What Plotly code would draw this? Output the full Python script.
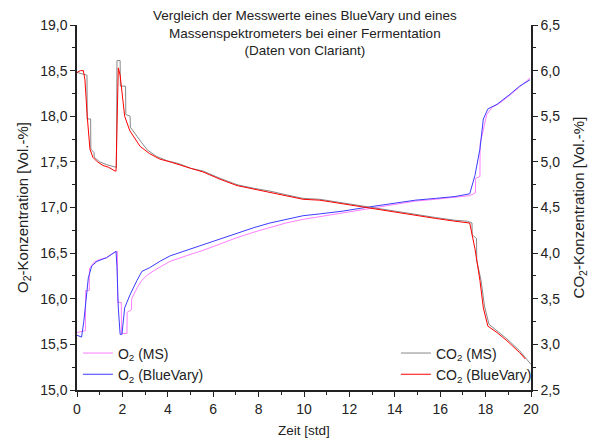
import plotly.graph_objects as go

# Zeit [std] and values
t_o2_bv = [0, 0.2, 0.3, 0.35, 0.5, 0.65, 0.88, 1.3, 1.67, 1.72, 1.76, 1.82, 1.9, 1.98, 2.1, 2.33, 2.64, 2.86, 3.2, 3.65,
           4.1, 4.8, 5.55, 6.3, 7.05, 7.8, 8.5, 9.2, 9.96, 10.7, 11.7, 12.7, 13.8, 14.9, 15.8, 16.65, 17.3, 17.53, 17.75,
           17.9, 18.1, 18.5, 19.07, 19.5, 19.96]
o2_bv = [15.60, 15.58, 15.75, 15.87, 16.23, 16.36, 16.41, 16.45, 16.51, 16.52, 16.35, 15.90, 15.61, 15.61, 15.90, 16.04,
         16.20, 16.30, 16.34, 16.41, 16.47, 16.53, 16.59, 16.66, 16.72, 16.78, 16.83, 16.87, 16.91, 16.93, 16.96, 17.00,
         17.04, 17.08, 17.10, 17.12, 17.15, 17.35, 17.64, 17.97, 18.08, 18.13, 18.24, 18.33, 18.40]

t_o2_ms = [0, 0.37, 0.38, 0.54, 0.55, 0.75, 1.0, 1.3, 1.6, 1.78, 1.79, 1.95, 1.96, 2.2, 2.21, 2.4, 2.41, 2.65, 2.85,
           3.1, 3.4, 3.7, 4.1, 4.8, 5.55, 6.3, 7.05, 7.8, 8.5, 9.2, 9.96, 10.7, 11.7, 12.7, 13.8, 14.9, 15.8, 16.65,
           17.3, 17.55, 17.56, 17.75, 17.76, 17.9, 18.05, 18.3, 18.6, 19.07, 19.5, 19.96]
o2_ms = [15.63, 15.65, 16.09, 16.09, 16.33, 16.40, 16.43, 16.45, 16.50, 16.52, 15.96, 15.96, 15.62, 15.62, 15.85, 15.88,
         16.00, 16.12, 16.20, 16.26, 16.31, 16.35, 16.41, 16.47, 16.53, 16.60, 16.67, 16.73, 16.78, 16.83, 16.87, 16.90,
         16.94, 16.98, 17.03, 17.07, 17.09, 17.11, 17.13, 17.16, 17.32, 17.34, 17.70, 17.85, 18.02, 18.10, 18.14, 18.23,
         18.32, 18.42]

t_co2_bv = [0, 0.15, 0.28, 0.35, 0.45, 0.57, 0.7, 0.9, 1.15, 1.4, 1.67, 1.72, 1.78, 1.82, 1.9, 1.98, 2.1, 2.33, 2.55,
            2.78, 3.2, 3.65, 4.1, 4.45, 5.0, 5.55, 6.3, 7.05, 7.8, 8.5, 9.2, 9.96, 10.7, 11.7, 12.7, 13.8, 14.9, 15.8,
            16.65, 17.1, 17.3, 17.53, 17.75, 17.9, 18.1, 18.5, 18.94, 19.5, 19.75]
co2_bv = [5.98, 6.00, 6.00, 5.90, 5.50, 5.14, 5.05, 5.00, 4.96, 4.94, 4.90, 4.90, 5.60, 6.03, 5.95, 5.79, 5.50, 5.34,
          5.25, 5.17, 5.09, 5.03, 5.00, 4.97, 4.93, 4.89, 4.81, 4.74, 4.70, 4.67, 4.63, 4.59, 4.58, 4.54, 4.50, 4.46,
          4.41, 4.38, 4.35, 4.34, 4.33, 4.05, 3.70, 3.40, 3.20, 3.13, 3.04, 2.91, 2.84]

t_co2_ms = [0, 0.44, 0.45, 0.6, 0.61, 0.75, 0.76, 1.0, 1.3, 1.74, 1.76, 1.9, 1.91, 2.14, 2.15, 2.34, 2.35, 2.6, 2.85,
            3.1, 3.5, 4.0, 4.5, 5.0, 5.55, 6.3, 7.05, 7.8, 8.5, 9.2, 9.96, 10.7, 11.7, 12.7, 13.8, 14.9, 15.8, 16.65,
            17.2, 17.4, 17.41, 17.6, 17.61, 17.8, 17.95, 18.15, 18.5, 18.94, 19.5, 20.0]
co2_ms = [5.98, 5.95, 5.47, 5.47, 5.14, 5.10, 5.05, 5.00, 4.97, 4.94, 6.11, 6.11, 5.83, 5.83, 5.52, 5.50, 5.38, 5.29,
          5.21, 5.13, 5.06, 5.01, 4.98, 4.93, 4.90, 4.82, 4.75, 4.71, 4.68, 4.64, 4.60, 4.59, 4.55, 4.51, 4.47, 4.42,
          4.39, 4.36, 4.35, 4.33, 4.20, 4.16, 3.92, 3.70, 3.42, 3.22, 3.15, 3.06, 2.93, 2.78]

x_ticks = list(range(0, 21, 2))
title_text = "Vergleich der Messwerte eines BlueVary und eines<br>Massenspektrometers bei einer Fermentation<br>(Daten von Clariant)"
font = "Liberation Sans, Arial, sans-serif"
ink = "#222222"

fig = go.Figure()
fig.add_trace(go.Scatter(x=t_o2_ms, y=o2_ms, mode="lines", line=dict(color="#ff7fff", width=1),
                         name="O<sub>2</sub> (MS)", legend="legend"))
fig.add_trace(go.Scatter(x=t_co2_ms, y=co2_ms, mode="lines", line=dict(color="#888888", width=1),
                         name="CO<sub>2</sub> (MS)", yaxis="y2", legend="legend2"))
fig.add_trace(go.Scatter(x=t_o2_bv, y=o2_bv, mode="lines", line=dict(color="#3c3cff", width=1),
                         name="O<sub>2</sub> (BlueVary)", legend="legend"))
fig.add_trace(go.Scatter(x=t_co2_bv, y=co2_bv, mode="lines", line=dict(color="#ff0000", width=1),
                         name="CO<sub>2</sub> (BlueVary)", yaxis="y2", legend="legend2"))

axis_common = dict(showgrid=False, zeroline=False, showline=True, linecolor=ink, linewidth=1.5,
                   ticks="outside", ticklen=5, tickwidth=1.2, tickcolor=ink,
                   tickfont=dict(family=font, size=14, color=ink))

fig.add_annotation(text=title_text, xref="paper", yref="paper", x=0.502, y=0.978, xanchor="center",
                   yanchor="middle", showarrow=False, align="center",
                   font=dict(family=font, size=13.5, color=ink))

fig.update_layout(
    width=597, height=448,
    margin=dict(l=77, r=66, t=25, b=54),
    paper_bgcolor="white", plot_bgcolor="white",
    separators=",.",
    font=dict(family=font, color=ink),
    xaxis=dict(range=[0, 20], tickvals=x_ticks, tickformat="d",
               minor=dict(ticks="outside", ticklen=3, dtick=1, tickcolor=ink),
               title=dict(text="Zeit [std]", font=dict(family=font, size=13.5), standoff=10), **axis_common),
    yaxis=dict(range=[15, 19], dtick=0.5, tickformat=".1f",
               minor=dict(ticks="outside", ticklen=3, dtick=0.25, tickcolor=ink),
               title=dict(text="O<sub>2</sub>-Konzentration [Vol.-%]", font=dict(family=font, size=15), standoff=8),
               **axis_common),
    yaxis2=dict(range=[2.5, 6.5], dtick=0.5, tickformat=".1f", overlaying="y", side="right",
                minor=dict(ticks="outside", ticklen=3, dtick=0.25, tickcolor=ink),
                title=dict(text="CO<sub>2</sub>-Konzentration [Vol.-%]", font=dict(family=font, size=15), standoff=14),
                **axis_common),
    legend=dict(x=0.002, y=0.144, xanchor="left", yanchor="top", bgcolor="rgba(0,0,0,0)",
                font=dict(family=font, size=14), tracegroupgap=0, itemwidth=30),
    legend2=dict(x=1.013, y=0.144, xanchor="right", yanchor="top", bgcolor="rgba(0,0,0,0)",
                 font=dict(family=font, size=14), tracegroupgap=0, itemwidth=30),
)

fig.write_html("out.html", config={"displayModeBar": False},
               post_script="document.body.style.margin='0px';")
